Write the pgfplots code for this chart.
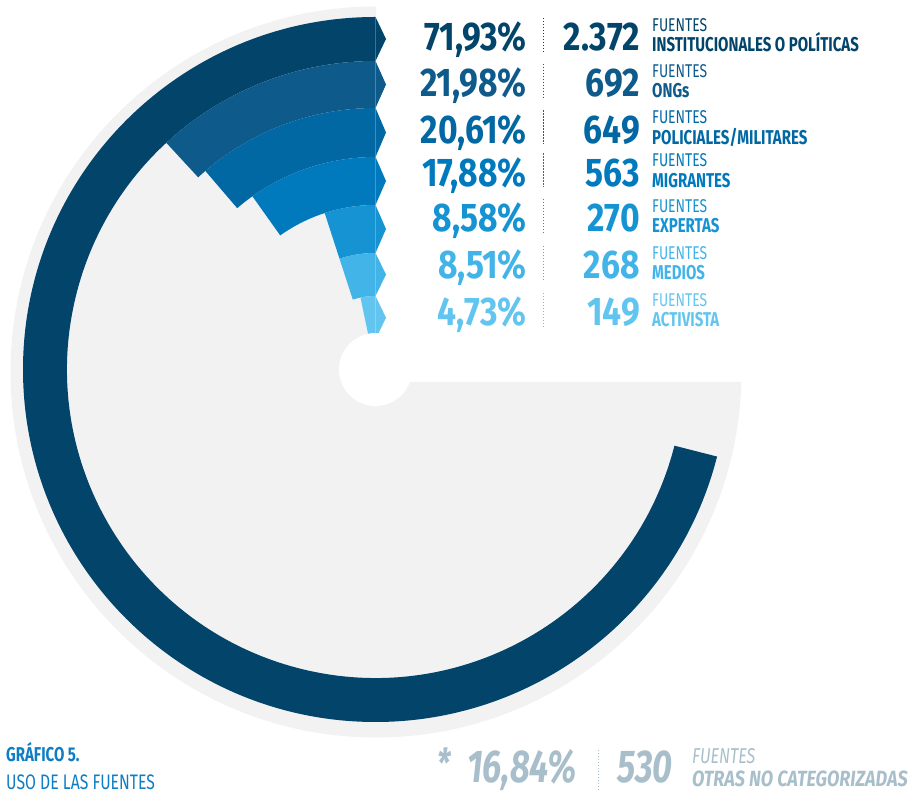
\documentclass[border=0pt]{standalone}
\usepackage{fontspec}
\setmainfont{Fira Sans}[FakeStretch=0.75]
\newfontfamily\numfont{Fira Sans}[FakeStretch=0.84]
\newfontfamily\widefont{Fira Sans}[FakeStretch=0.82]
\usepackage{pgfplots}
\usepackage{pgfplotstable}
\pgfplotsset{compat=1.18}
\usetikzlibrary{calc}

\definecolor{bar0}{RGB}{2,68,106}
\definecolor{bar1}{RGB}{14,90,139}
\definecolor{bar2}{RGB}{1,104,163}
\definecolor{bar3}{RGB}{0,121,189}
\definecolor{bar4}{RGB}{22,147,211}
\definecolor{bar5}{RGB}{67,180,232}
\definecolor{bar6}{RGB}{98,197,240}
\definecolor{greybg}{RGB}{242,242,242}
\definecolor{footgrey}{RGB}{168,191,203}
\definecolor{titleblue}{RGB}{14,125,195}

% pct: share of sources, count: number of sources, span: drawn angle (deg),
% rin/rout: ring radii
\pgfplotstableread{
pct   count span  rin   rout
71.93 2372  255.7 308.5 352.5
21.98 692   42.7  261.5 308.5
20.61 649   40.6  212.5 261.5
17.88 563   35.4  164.5 212.5
8.58  270   18.0  116.5 164.5
8.51  268   18.0  73.5  116.5
4.73  149   11.8  30    73.5
}\bars

% #1 rin, #2 rout, #3 span, #4 colour
\newcommand\radbar[4]{%
  \fill[#4] (axis cs:375.5,{424.5+#2}) arc[start angle=90, end angle={90+#3}, radius=#2pt]
    -- ($(C)+({90+#3}:#1pt)$) arc[start angle={90+#3}, end angle=90, radius=#1pt]
    -- (axis cs:386,{424.5+(#1+#2)/2}) -- cycle;
}

% #1 baseline (px from top), #2 pct, #3 count, #4 label, #5 colour
\newcommand\row[5]{%
  \node[anchor=base east, inner sep=0pt, text=#5, font=\fontsize{40}{40}\numfont\bfseries] at (axis cs:527,{794-#1}) {#2};
  \draw[#5, line width=1pt, dash pattern=on 1.3pt off 1.7pt] (axis cs:543,{794-#1+33}) -- (axis cs:543,{794-#1-1});
  \node[anchor=base east, inner sep=0pt, text=#5, font=\fontsize{40}{40}\numfont\bfseries] at (axis cs:640,{794-#1}) {#3};
  \node[anchor=base west, inner sep=0pt, text=#5, font=\fontsize{18.5}{18.5}\selectfont] at (axis cs:652,{794-#1+19.5}) {FUENTES};
  \node[anchor=base west, inner sep=0pt, text=#5, font=\fontsize{20}{20}\selectfont\bfseries] at (axis cs:652,{794-#1-1}) {#4};
}

\begin{document}
\begin{tikzpicture}
\begin{axis}[
  x=1pt, y=1pt, xmin=0, xmax=923, ymin=0, ymax=794,
  hide axis, clip=false, scale only axis,
]
\addplot[draw=none] coordinates {(0,0) (923,794)};
\coordinate (C) at (axis cs:375.5,424.5);

% grey background disc with the upper-right quarter cut away
\fill[greybg] (axis cs:376,787.5) arc[start angle=90, end angle=358.43, radius=365.5pt]
  -- (axis cs:376,412) -- cycle;

\pgfplotsinvokeforeach{0,...,6}{
  \pgfplotstablegetelem{#1}{rin}\of\bars \let\rin\pgfplotsretval
  \pgfplotstablegetelem{#1}{rout}\of\bars \let\rout\pgfplotsretval
  \pgfplotstablegetelem{#1}{span}\of\bars \let\bspan\pgfplotsretval
  \edef\tmp{\noexpand\radbar{\rin}{\rout}{\bspan}{bar#1}}\tmp
}
\draw[white, opacity=0.25, line width=0.6pt] (axis cs:375.5,460) -- (axis cs:375.5,777);

% central white hole
\fill[white] (C) circle[radius=36.5pt];

\row{51}{71,93\%}{2.372}{INSTITUCIONALES O POLÍTICAS}{bar0}
\row{96.7}{21,98\%}{692}{ONGs}{bar1}
\row{143.5}{20,61\%}{649}{POLICIALES/MILITARES}{bar2}
\row{186.5}{17,88\%}{563}{MIGRANTES}{bar3}
\row{232}{8,58\%}{270}{EXPERTAS}{bar4}
\row{279}{8,51\%}{268}{MEDIOS}{bar5}
\row{326}{4,73\%}{149}{ACTIVISTA}{bar6}

% footer
\node[anchor=base west, inner sep=0pt, text=footgrey, font=\fontsize{40}{40}\selectfont\bfseries\itshape] at (axis cs:437,16) {*};
\node[anchor=base east, inner sep=0pt, text=footgrey, font=\fontsize{46}{46}\selectfont\bfseries\itshape] at (axis cs:577,11) {16,84\%};
\draw[footgrey, line width=1pt, dash pattern=on 1.3pt off 1.7pt] (axis cs:598,44) -- (axis cs:598,4);
\node[anchor=base east, inner sep=0pt, text=footgrey, font=\fontsize{46}{46}\selectfont\bfseries\itshape] at (axis cs:673,11) {530};
\node[anchor=base west, inner sep=0pt, text=footgrey, font=\fontsize{21.5}{21.5}\selectfont\itshape] at (axis cs:692,30) {FUENTES};
\node[anchor=base west, inner sep=0pt, text=footgrey, font=\fontsize{22}{22}\widefont\bfseries\itshape] at (axis cs:692,7) {OTRAS NO CATEGORIZADAS};

\node[anchor=base west, inner sep=0pt, text=titleblue, font=\fontsize{20}{20}\selectfont\bfseries] at (axis cs:6,32) {GRÁFICO 5.};
\node[anchor=base west, inner sep=0pt, text=titleblue, font=\fontsize{21}{21}\selectfont] at (axis cs:6,4) {USO DE LAS FUENTES};
\end{axis}
\end{tikzpicture}
\end{document}
